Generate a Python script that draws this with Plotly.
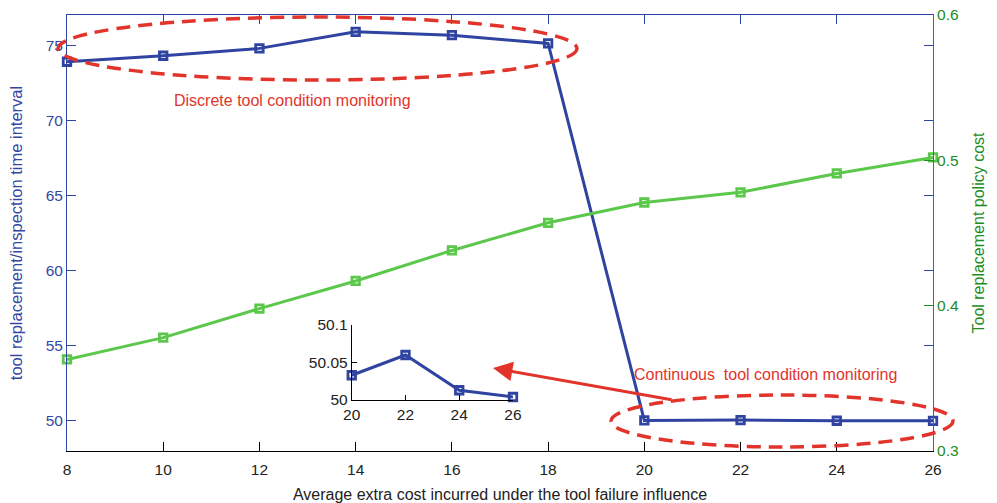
import plotly.graph_objects as go

# ---- data ----
extra_cost = [8, 10, 12, 14, 16, 18, 20, 22, 24, 26]
interval = [73.89, 74.29, 74.78, 75.88, 75.66, 75.11, 50.033, 50.06, 50.013, 50.004]
policy_cost = [0.363, 0.378, 0.398, 0.417, 0.438, 0.457, 0.471, 0.478, 0.491, 0.502]
x_ticks = [8, 10, 12, 14, 16, 18, 20, 22, 24, 26]
left_ticks = [50, 55, 60, 65, 70, 75]
right_ticks = [0.3, 0.4, 0.5, 0.6]
inset_x_ticks = [20, 22, 24, 26]
inset_y_ticks = [50, 50.05, 50.1]
inset_y_labels = ["50", "50.05", "50.1"]

BLUE = "#2F43A0"
BLUE_TXT = "#3447A3"
GREEN = "#5BC84B"
GREEN_AX = "#1E8C1E"
RED = "#E2342B"
FONT = "Liberation Sans, Arial, sans-serif"
TICK = 15.5
TXT = 16

mk_blue = dict(symbol="square-open", size=7.5, color=BLUE, line=dict(width=2.8, color=BLUE))
mk_green = dict(symbol="square-open", size=7.5, color=GREEN, line=dict(width=2.8, color=GREEN))

fig = go.Figure()

fig.add_trace(go.Scatter(
    x=extra_cost, y=interval, mode="lines+markers",
    line=dict(color=BLUE, width=3), marker=mk_blue,
    cliponaxis=False, xaxis="x", yaxis="y"))

fig.add_trace(go.Scatter(
    x=extra_cost, y=policy_cost, mode="lines+markers",
    line=dict(color=GREEN, width=3), marker=mk_green,
    cliponaxis=False, xaxis="x", yaxis="y2"))

# invisible trace for mirrored blue top/right ticks
fig.add_trace(go.Scatter(
    x=[extra_cost[0]], y=[interval[0]], mode="markers",
    marker=dict(opacity=0), hoverinfo="skip", xaxis="x2", yaxis="y3"))

# inset
fig.add_trace(go.Scatter(
    x=extra_cost[6:], y=interval[6:], mode="lines+markers",
    line=dict(color=BLUE, width=3), marker=mk_blue,
    cliponaxis=False, xaxis="x3", yaxis="y4"))

fig.update_layout(
    width=997, height=503,
    margin=dict(l=67, r=64, t=15, b=52, autoexpand=False),
    paper_bgcolor="white", plot_bgcolor="white",
    showlegend=False, hovermode=False,
    font=dict(family=FONT, size=TXT),
    xaxis=dict(range=[8, 26], tickvals=x_ticks, ticks="inside", ticklen=9,
               tickcolor="black", showline=True, linecolor="black", linewidth=1,
               showgrid=False, zeroline=False, automargin=False, ticklabelstandoff=4,
               tickfont=dict(family=FONT, size=TICK, color="#222222"),
               title=dict(text="Average extra cost incurred under the tool failure influence",
                          font=dict(family=FONT, size=TXT, color="#222222"), standoff=12)),
    xaxis2=dict(range=[8, 26], tickvals=x_ticks, ticks="inside", ticklen=9,
                tickcolor=BLUE, showline=True, linecolor=BLUE, linewidth=1,
                showticklabels=False, showgrid=False, zeroline=False, automargin=False,
                overlaying="x", side="top", anchor="y"),
    yaxis=dict(range=[48, 77], tickvals=left_ticks, ticks="inside", ticklen=9,
               tickcolor=BLUE, showline=True, linecolor=BLUE, linewidth=1,
               showgrid=False, zeroline=False, automargin=False,
               ticklabeloverflow="allow",
               tickfont=dict(family=FONT, size=TICK, color=BLUE_TXT),
               title=dict(text="tool replacement/inspection time interval",
                          font=dict(family=FONT, size=16.5, color=BLUE_TXT), standoff=18)),
    yaxis2=dict(range=[0.3, 0.6], tickvals=right_ticks, ticktext=["0.3", "0.4", "0.5", "0.6"],
                ticks="inside", ticklen=9, tickcolor=GREEN_AX, showline=True,
                linecolor=GREEN_AX, linewidth=1, showgrid=False, zeroline=False,
                automargin=False, overlaying="y", side="right", anchor="x",
                ticklabeloverflow="allow",
                tickfont=dict(family=FONT, size=TICK, color=GREEN_AX),
                title=dict(text="Tool replacement policy cost",
                           font=dict(family=FONT, size=TXT, color=GREEN_AX), standoff=14)),
    yaxis3=dict(range=[48, 77], tickvals=left_ticks, ticks="inside", ticklen=9,
                tickcolor=BLUE, showline=False, showticklabels=False, automargin=False,
                showgrid=False, zeroline=False, overlaying="y", side="right", anchor="x"),
    xaxis3=dict(domain=[0.3288, 0.515], range=[20, 26], tickvals=inset_x_ticks,
                ticks="inside", ticklen=5, tickcolor="black", showline=True,
                linecolor="black", linewidth=1, showgrid=False, zeroline=False,
                automargin=False, anchor="y4",
                tickfont=dict(family=FONT, size=TICK, color="#222222")),
    yaxis4=dict(domain=[0.117, 0.289], range=[50, 50.1], tickvals=inset_y_ticks,
                ticktext=inset_y_labels, ticks="inside", ticklen=5, tickcolor="black",
                showline=True, linecolor="black", linewidth=1, showgrid=False,
                zeroline=False, automargin=False, anchor="x3",
                tickfont=dict(family=FONT, size=TICK, color="#222222")),
)

# dashed ellipses
fig.add_shape(type="circle", xref="paper", yref="paper",
              x0=-0.0104, x1=0.5889, y0=0.8509, y1=0.9954,
              line=dict(color=RED, width=3.5, dash="14px,8px"))
fig.add_shape(type="circle", xref="paper", yref="paper",
              x0=0.6282, x1=1.0231, y0=0.0092, y1=0.1284,
              line=dict(color=RED, width=3.5, dash="14px,8px"))

fig.add_annotation(text="Discrete tool condition monitoring", xref="paper", yref="paper",
                   x=0.26, y=0.803, xanchor="center", yanchor="middle", showarrow=False,
                   font=dict(family=FONT, size=TXT, color=RED))
fig.add_annotation(text="Continuous\u00a0 tool condition monitoring", xref="paper", yref="paper",
                   x=0.807, y=0.1755, xanchor="center", yanchor="middle", showarrow=False,
                   font=dict(family=FONT, size=TXT, color=RED))
fig.add_annotation(text="", xref="paper", yref="paper", x=0.4919, y=0.1904,
                   ax=180, ay=32, showarrow=True, arrowhead=2, arrowsize=1.3,
                   arrowwidth=3, arrowcolor=RED)

fig.write_html("out.html",
               config={"displayModeBar": False},
               post_script="document.body.style.margin='0';document.body.style.overflow='hidden';")
